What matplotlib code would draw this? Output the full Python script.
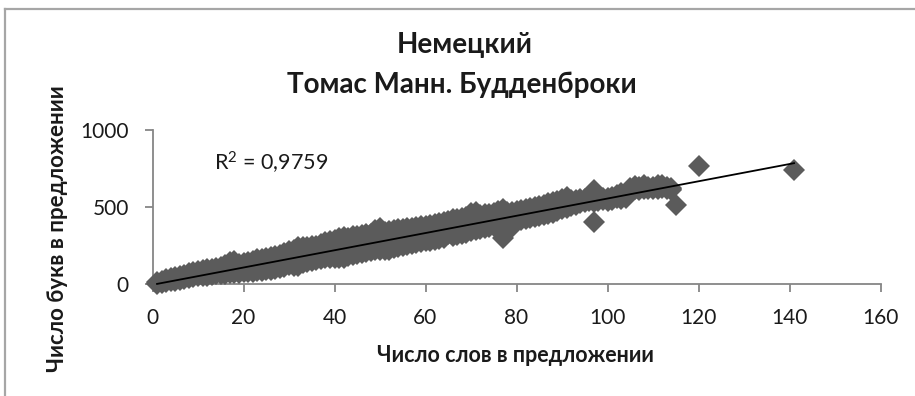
import matplotlib
matplotlib.use("Agg")
import matplotlib.pyplot as plt
from matplotlib.lines import Line2D

plt.rcParams['font.family'] = ['Lato', 'DejaVu Sans']
plt.rcParams['mathtext.fontset'] = 'custom'
plt.rcParams['mathtext.rm'] = 'Lato'
plt.rcParams['mathtext.it'] = 'Lato'
plt.rcParams['mathtext.default'] = 'regular'

# Word counts per sentence and the spread of letter counts observed at each length
words = list(range(1, 115))
letters_max = [
    14, 22, 30, 38, 47, 55, 60, 70, 76, 84,
    88, 96, 100, 107, 110, 122, 140, 151, 130, 138,
    146, 150, 160, 163, 170, 174, 182, 186, 200, 216,
    222, 241, 238, 240, 246, 250, 262, 270, 282, 288,
    296, 304, 300, 312, 314, 318, 322, 326, 350, 362,
    340, 347, 350, 356, 358, 362, 366, 369, 374, 376,
    380, 388, 394, 401, 410, 423, 420, 428, 434, 460,
    466, 446, 455, 452, 460, 474, 488, 470, 466, 474,
    480, 488, 494, 502, 509, 516, 524, 531, 540, 552,
    564, 548, 545, 550, 552, 570, 610, 575, 560, 556,
    565, 575, 590, 570, 625, 635, 628, 640, 630, 632,
    645, 640, 630, 622,
]
letters_mid = [
    8, 15, 21, 27, 34, 40, 46, 53, 60, 66,
    70, 75, 79, 84, 88, 94, 100, 106, 102, 107,
    112, 116, 121, 125, 130, 134, 139, 144, 156, 170,
    171, 178, 186, 191, 198, 204, 212, 218, 226, 230,
    233, 238, 240, 250, 254, 259, 264, 270, 284, 290,
    281, 286, 291, 298, 302, 308, 313, 318, 322, 326,
    330, 337, 344, 350, 366, 368, 370, 378, 384, 400,
    408, 401, 409, 411, 418, 428, 440, 431, 432, 440,
    447, 454, 461, 468, 475, 483, 490, 497, 507, 518,
    529, 526, 530, 539, 542, 553, 560, 557, 552, 548,
    556, 567, 572, 565, 618, 625, 620, 628, 622, 624,
    632, 630, 622, 615,
]
letters_min = [
    3, 8, 12, 17, 22, 26, 32, 38, 45, 50,
    52, 55, 58, 62, 65, 67, 69, 71, 73, 76,
    78, 80, 83, 85, 89, 93, 97, 102, 112, 125,
    120, 117, 135, 142, 150, 158, 162, 166, 170, 171,
    170, 172, 180, 187, 193, 200, 207, 213, 218, 221,
    222, 224, 232, 240, 247, 254, 260, 266, 271, 276,
    280, 287, 294, 300, 323, 312, 320, 327, 334, 342,
    349, 356, 363, 370, 377, 383, 386, 392, 372, 406,
    414, 421, 428, 435, 442, 450, 457, 464, 474, 484,
    494, 505, 516, 528, 532, 536, 534, 540, 545, 540,
    548, 560, 555, 560, 612, 615, 612, 618, 615, 616,
    620, 622, 615, 610,
]

# Isolated long or unusual sentences
outlier_words = [77, 97, 115, 120, 141]
outlier_letters = [300, 400, 515, 768, 738]

# Linear trend line (letters = slope * words + intercept)
trend_slope = 5.6
trend_intercept = -5.0
trend_r2 = "0,9759"

title_lines = ["Немецкий", "Томас Манн. Будденброки"]
x_label = "Число слов в предложении"
y_label = "Число букв в предложении"
x_ticks = [0, 20, 40, 60, 80, 100, 120, 140, 160]
y_ticks = [0, 500, 1000]

marker_color = "#5b5b5b"
axis_color = "#868686"
text_color = "#1a1a1a"

fig = plt.figure(figsize=(9.15, 3.96), dpi=100)
W, H = 915, 396
ax = fig.add_axes([152.5 / W, 1 - 284 / H, (880.5 - 152.5) / W, (284 - 130) / H])

marker_kw = dict(linestyle="none", marker="D", markersize=11,
                 color=marker_color, markeredgewidth=0, clip_on=False, zorder=3)
ax.plot(words, letters_min, **marker_kw)
ax.plot(words, letters_max, **marker_kw)
ax.plot(words, letters_mid, **marker_kw)
ax.plot(outlier_words, outlier_letters, **marker_kw)

x_all = words + outlier_words
x0, x1 = min(x_all), max(x_all)
ax.plot([x0, x1], [trend_slope * x0 + trend_intercept, trend_slope * x1 + trend_intercept],
        color="black", linewidth=1.3, zorder=4, clip_on=False)

ax.set_xlim(0, 160)
ax.set_ylim(0, 1000)
ax.set_xticks(x_ticks)
ax.set_yticks(y_ticks)
for s in ("top", "right"):
    ax.spines[s].set_visible(False)
for s in ("left", "bottom"):
    ax.spines[s].set_color(axis_color)
    ax.spines[s].set_linewidth(1.3)
ax.tick_params(axis="both", direction="out", length=6, width=1.3, color=axis_color,
               labelsize=15, labelcolor=text_color)
ax.tick_params(axis="y", pad=11)
ax.tick_params(axis="x", pad=11)
ax.set_facecolor("none")

ax.text(13.5, 786, "R$^{2}$ = " + trend_r2, fontsize=15.5, color=text_color,
        ha="left", va="center")

fig.text(465 / W, 1 - 45 / H, title_lines[0], ha="center", va="center",
         fontsize=20, fontweight="bold", color=text_color)
fig.text(462 / W, 1 - 85 / H, title_lines[1], ha="center", va="center",
         fontsize=20, fontweight="bold", color=text_color)
fig.text(515 / W, 1 - 355 / H, x_label, ha="center", va="center",
         fontsize=15.5, fontweight="bold", color=text_color)
fig.text(57 / W, 1 - 229 / H, y_label, ha="center", va="center", rotation=90,
         fontsize=16, fontweight="bold", color=text_color)

# Chart area frame
frame_color = "#a6a6a6"
fig.add_artist(Line2D([5 / W, 1], [1 - 8.5 / H, 1 - 8.5 / H], color=frame_color,
                      linewidth=1.6, transform=fig.transFigure))
fig.add_artist(Line2D([5 / W, 5 / W], [0, 1 - 8.5 / H], color=frame_color,
                      linewidth=1.6, transform=fig.transFigure))

fig.savefig("out.png", dpi=100)
